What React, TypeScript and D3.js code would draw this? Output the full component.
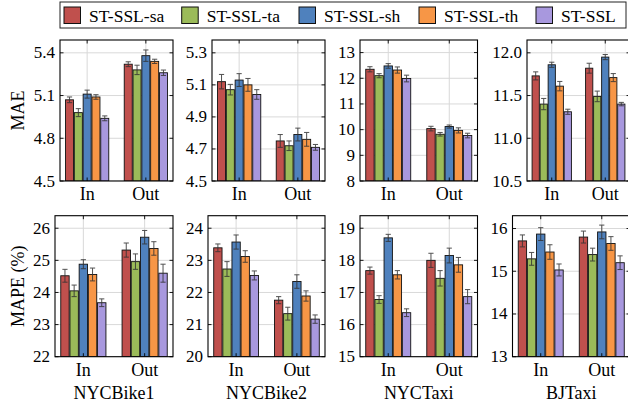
import * as d3 from "d3";

const categories = ["In", "Out"];
const methods = ["ST-SSL-sa", "ST-SSL-ta", "ST-SSL-sh", "ST-SSL-th", "ST-SSL"];
const colors = ["#c0504d", "#9bbb59", "#4f81bd", "#f79646", "#a898de"];
const datasets = ["NYCBike1", "NYCBike2", "NYCTaxi", "BJTaxi"];

// MAE, [In, Out] x methods
const maeNYCBike1 = [[5.07, 4.98, 5.11, 5.09, 4.94], [5.32, 5.28, 5.38, 5.34, 5.26]];
const maeNYCBike2 = [[5.12, 5.07, 5.13, 5.10, 5.04], [4.75, 4.72, 4.79, 4.76, 4.71]];
const maeNYCTaxi = [[12.35, 12.1, 12.48, 12.32, 11.99], [10.04, 9.82, 10.12, 9.97, 9.77]];
const maeBJTaxi = [[11.73, 11.40, 11.86, 11.61, 11.31], [11.82, 11.49, 11.95, 11.71, 11.40]];
const maeErrNYCBike1 = [[0.02, 0.028, 0.028, 0.016, 0.017], [0.017, 0.033, 0.04, 0.015, 0.019]];
const maeErrNYCBike2 = [[0.045, 0.033, 0.04, 0.04, 0.03], [0.04, 0.03, 0.04, 0.043, 0.018]];
const maeErrNYCTaxi = [[0.1, 0.08, 0.09, 0.12, 0.13], [0.09, 0.07, 0.06, 0.1, 0.09]];
const maeErrBJTaxi = [[0.047, 0.066, 0.03, 0.055, 0.03], [0.058, 0.062, 0.03, 0.047, 0.02]];

// MAPE (%)
const mapeNYCBike1 = [[24.52, 24.05, 24.88, 24.56, 23.68], [25.32, 24.96, 25.72, 25.37, 24.6]];
const mapeNYCBike2 = [[23.39, 22.73, 23.57, 23.12, 22.53], [21.76, 21.34, 22.34, 21.89, 21.17]];
const mapeNYCTaxi = [[17.68, 16.78, 18.7, 17.55, 16.37], [18.0, 17.44, 18.15, 17.86, 16.87]];
const mapeBJTaxi = [[15.71, 15.29, 15.87, 15.45, 15.03], [15.8, 15.39, 15.92, 15.65, 15.2]];
const mapeErrNYCBike1 = [[0.2, 0.18, 0.14, 0.2, 0.12], [0.22, 0.24, 0.21, 0.21, 0.28]];
const mapeErrNYCBike2 = [[0.12, 0.23, 0.22, 0.18, 0.14], [0.11, 0.2, 0.21, 0.16, 0.13]];
const mapeErrNYCTaxi = [[0.11, 0.12, 0.11, 0.13, 0.12], [0.22, 0.24, 0.23, 0.23, 0.22]];
const mapeErrBJTaxi = [[0.14, 0.15, 0.15, 0.17, 0.14], [0.14, 0.15, 0.16, 0.16, 0.16]];

const maeTicks = [[4.5, 4.8, 5.1, 5.4], [4.5, 4.7, 4.9, 5.1, 5.3], [8, 9, 10, 11, 12, 13], [10.5, 11.0, 11.5, 12.0]];
const mapeTicks = [[22, 23, 24, 25, 26], [20, 21, 22, 23, 24], [15, 16, 17, 18, 19], [13, 14, 15, 16]];
const maeDomains = [[4.5, 5.49], [4.5, 5.38], [8, 13.49], [10.5, 12.15]];
const mapeDomains = [[22, 26.39], [20, 24.39], [15, 19.39], [13, 16.3]];
const maeFormats = [".1f", ".1f", "d", ".1f"];

const rows = [
  {
    label: "MAE",
    values: [maeNYCBike1, maeNYCBike2, maeNYCTaxi, maeBJTaxi],
    errors: [maeErrNYCBike1, maeErrNYCBike2, maeErrNYCTaxi, maeErrBJTaxi],
    ticks: maeTicks,
    domains: maeDomains,
    formats: maeFormats,
    top: 40,
    bottom: 181,
    lefts: [60, 212, 360, 527],
    showTitle: false,
  },
  {
    label: "MAPE (%)",
    values: [mapeNYCBike1, mapeNYCBike2, mapeNYCTaxi, mapeBJTaxi],
    errors: [mapeErrNYCBike1, mapeErrNYCBike2, mapeErrNYCTaxi, mapeErrBJTaxi],
    ticks: mapeTicks,
    domains: mapeDomains,
    formats: ["d", "d", "d", "d"],
    top: 215.7,
    bottom: 356.7,
    lefts: [55, 208, 360, 512.5],
    showTitle: true,
  },
];
const rights = [173, 325, 477.5, 630];

const font = "'Liberation Serif', 'Times New Roman', serif";
const TICK = 3.5;

function Panel({ row, p }: { row: (typeof rows)[number]; p: number }) {
  const left = row.lefts[p];
  const right = rights[p];
  const x = d3.scaleLinear().domain([-0.4625, 1.4625]).range([left, right]);
  const y = d3.scaleLinear().domain(row.domains[p]).range([row.bottom, row.top]);
  const fmt = d3.format(row.formats[p]);
  const step = x(0.15) - x(0);
  const bw = step - 0.8;
  const vals = row.values[p];
  const errs = row.errors[p];
  const y0 = row.domains[p][0];
  const clipId = `clip-${row.showTitle ? "b" : "t"}-${p}`;

  return (
    <g>
      <defs>
        <clipPath id={clipId}>
          <rect x={left} y={row.top} width={right - left} height={row.bottom - row.top} />
        </clipPath>
      </defs>
      <g clipPath={`url(#${clipId})`}>
        {row.ticks[p].map((t) => (
          <line key={"gy" + t} x1={left} x2={right} y1={y(t)} y2={y(t)} stroke="#d9d9d9" strokeWidth={1} />
        ))}
        {categories.map((c, i) => (
          <line key={"gx" + c} x1={x(i)} x2={x(i)} y1={row.top} y2={row.bottom} stroke="#d9d9d9" strokeWidth={1} />
        ))}
        {categories.map((c, i) =>
          methods.map((m, j) => {
            const cx = x(i + (j - 2) * 0.15);
            return (
              <rect
                key={c + m}
                x={cx - bw / 2}
                y={y(vals[i][j])}
                width={bw}
                height={y(y0) - y(vals[i][j])}
                fill={colors[j]}
                stroke="#111"
                strokeWidth={0.9}
              />
            );
          })
        )}
        {categories.map((c, i) =>
          methods.map((m, j) => {
            const cx = x(i + (j - 2) * 0.15);
            const hi = y(vals[i][j] + errs[i][j]);
            const lo = y(vals[i][j] - errs[i][j]);
            return (
              <g key={"e" + c + m} stroke="#333" strokeWidth={1} opacity={0.85}>
                <line x1={cx} x2={cx} y1={hi} y2={lo} />
                <line x1={cx - 2.6} x2={cx + 2.6} y1={hi} y2={hi} />
                <line x1={cx - 2.6} x2={cx + 2.6} y1={lo} y2={lo} />
              </g>
            );
          })
        )}
      </g>
      {row.ticks[p].map((t) => (
        <g key={"ty" + t}>
          <line x1={left} x2={left + TICK} y1={y(t)} y2={y(t)} stroke="#000" strokeWidth={0.9} />
          <line x1={right} x2={right - TICK} y1={y(t)} y2={y(t)} stroke="#000" strokeWidth={0.9} />
          <text
            x={left - 5}
            y={y(t)}
            textAnchor="end"
            dominantBaseline="central"
            fontSize={17}
            fontFamily={font}
            fill="#000"
          >
            {fmt(t)}
          </text>
        </g>
      ))}
      {categories.map((c, i) => (
        <g key={"tx" + c}>
          <line x1={x(i)} x2={x(i)} y1={row.bottom} y2={row.bottom - TICK} stroke="#000" strokeWidth={0.9} />
          <line x1={x(i)} x2={x(i)} y1={row.top} y2={row.top + TICK} stroke="#000" strokeWidth={0.9} />
          <text x={x(i)} y={row.bottom + 19} textAnchor="middle" fontSize={18} fontFamily={font} fill="#000">
            {c}
          </text>
        </g>
      ))}
      <rect x={left} y={row.top} width={right - left} height={row.bottom - row.top} fill="none" stroke="#000" strokeWidth={1.1} />
      {row.showTitle && (
        <text x={(left + right) / 2} y={row.bottom + 42} textAnchor="middle" fontSize={18} fontFamily={font} fill="#000">
          {datasets[p]}
        </text>
      )}
      {p === 0 && (
        <text
          transform={`translate(18,${(row.top + row.bottom) / 2}) rotate(-90)`}
          textAnchor="middle"
          dominantBaseline="central"
          fontSize={18}
          fontFamily={font}
          fill="#000"
        >
          {row.label}
        </text>
      )}
    </g>
  );
}

const legendSquareX = [64, 181.7, 299, 419, 536];

function Legend() {
  return (
    <g>
      <rect x={60} y={2} width={566} height={26} fill="#fff" stroke="#222" strokeWidth={1} />
      {methods.map((m, j) => (
        <g key={m}>
          <rect x={legendSquareX[j]} y={7} width={16.5} height={16.5} fill={colors[j]} stroke="#111" strokeWidth={1} />
          <text x={legendSquareX[j] + 25} y={15.5} dominantBaseline="central" fontSize={17.5} fontFamily={font} fill="#000">
            {m}
          </text>
        </g>
      ))}
    </g>
  );
}

export default function App() {
  return (
    <svg
      width={628}
      height={406}
      style={{ position: "absolute", left: 0, top: 0, background: "#fff" }}
    >
      {rows.map((row) =>
        datasets.map((d, p) => <Panel key={row.label + d} row={row} p={p} />)
      )}
      <Legend />
    </svg>
  );
}
